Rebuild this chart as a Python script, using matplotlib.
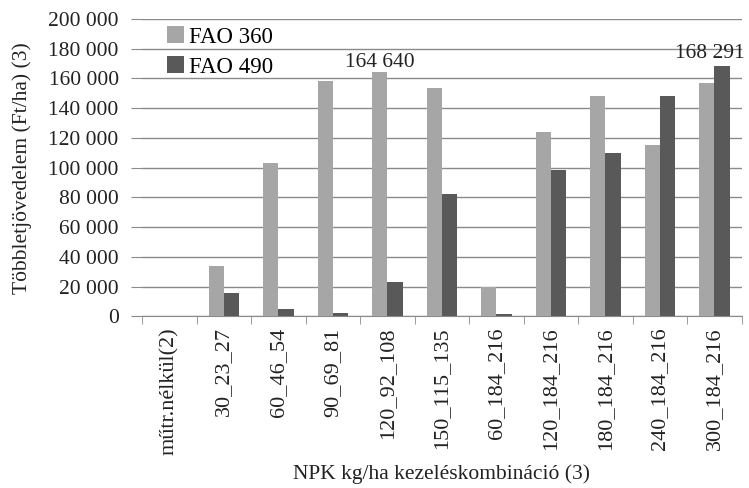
import matplotlib
matplotlib.use("Agg")
import matplotlib.pyplot as plt
import numpy as np

categories = ["műtr.nélkül(2)", "30_23_27", "60_46_54", "90_69_81", "120_92_108",
              "150_115_135", "60_184_216", "120_184_216", "180_184_216",
              "240_184_216", "300_184_216"]
fao360 = [0, 34000, 103000, 158000, 164640, 153800, 20000, 124000, 148000, 115400, 157000]
fao490 = [0, 15300, 5000, 2500, 23000, 82000, 1800, 98300, 110000, 148400, 168291]
yticks = np.arange(0, 200001, 20000)

plt.rcParams['font.family'] = ['Liberation Serif', 'DejaVu Serif']
plt.rcParams['font.size'] = 15.5
grid_c = '#8a8a8a'
text_c = '#222222'

fig = plt.figure(figsize=(7.49, 4.88), dpi=100)
ax = fig.add_axes([0.19, 0.352, 0.80, 0.609])

x = np.arange(len(categories))
w = 0.28
ax.bar(x - w / 2, fao360, w, color='#a6a6a6', label='FAO 360', zorder=3)
ax.bar(x + w / 2, fao490, w, color='#595959', label='FAO 490', zorder=3)

ax.set_ylim(0, 200000)
ax.set_xlim(-0.5, len(categories) - 0.5)
ax.set_yticks(yticks)
ax.yaxis.set_major_formatter(plt.FuncFormatter(lambda v, _: f'{int(v):,}'.replace(',', ' ')))
ax.grid(axis='y', color=grid_c, linewidth=1, zorder=0)

ax.set_xticks(x)
ax.set_xticklabels(categories, rotation=90, fontsize=16)
ax.set_xticks(np.arange(-0.5, len(categories)), minor=True)
ax.tick_params(axis='x', which='major', length=0, pad=8, colors=text_c)
ax.tick_params(axis='x', which='minor', length=6, color=grid_c)
ax.tick_params(axis='y', length=8, color=grid_c, pad=9, colors=text_c)
ax.tick_params(axis='y', color=grid_c)

for s in ['top', 'right', 'left']:
    ax.spines[s].set_visible(False)
ax.spines['bottom'].set_color(grid_c)

# value labels on the two marked bars
ax.annotate('164 640', (x[4] - w / 2, fao360[4]), xytext=(0, 0), textcoords='offset points',
            ha='center', va='bottom', color=text_c)
ax.annotate('168 291', (x[10] + w / 2, fao490[10]), xytext=(-9, 2), textcoords='offset points',
            ha='center', va='bottom', color=text_c)

ax.set_ylabel('Többletjövedelem (Ft/ha) (3)', color=text_c, labelpad=12)
ax.set_xlabel('NPK kg/ha kezeléskombináció (3)', color=text_c, labelpad=7)

ax.legend(loc='upper left', bbox_to_anchor=(0.007, 1.045), frameon=False, handlelength=0.75,
          handleheight=0.75, handletextpad=0.2, labelspacing=0.37, fontsize=16.5)

fig.savefig('out.png', dpi=100)
